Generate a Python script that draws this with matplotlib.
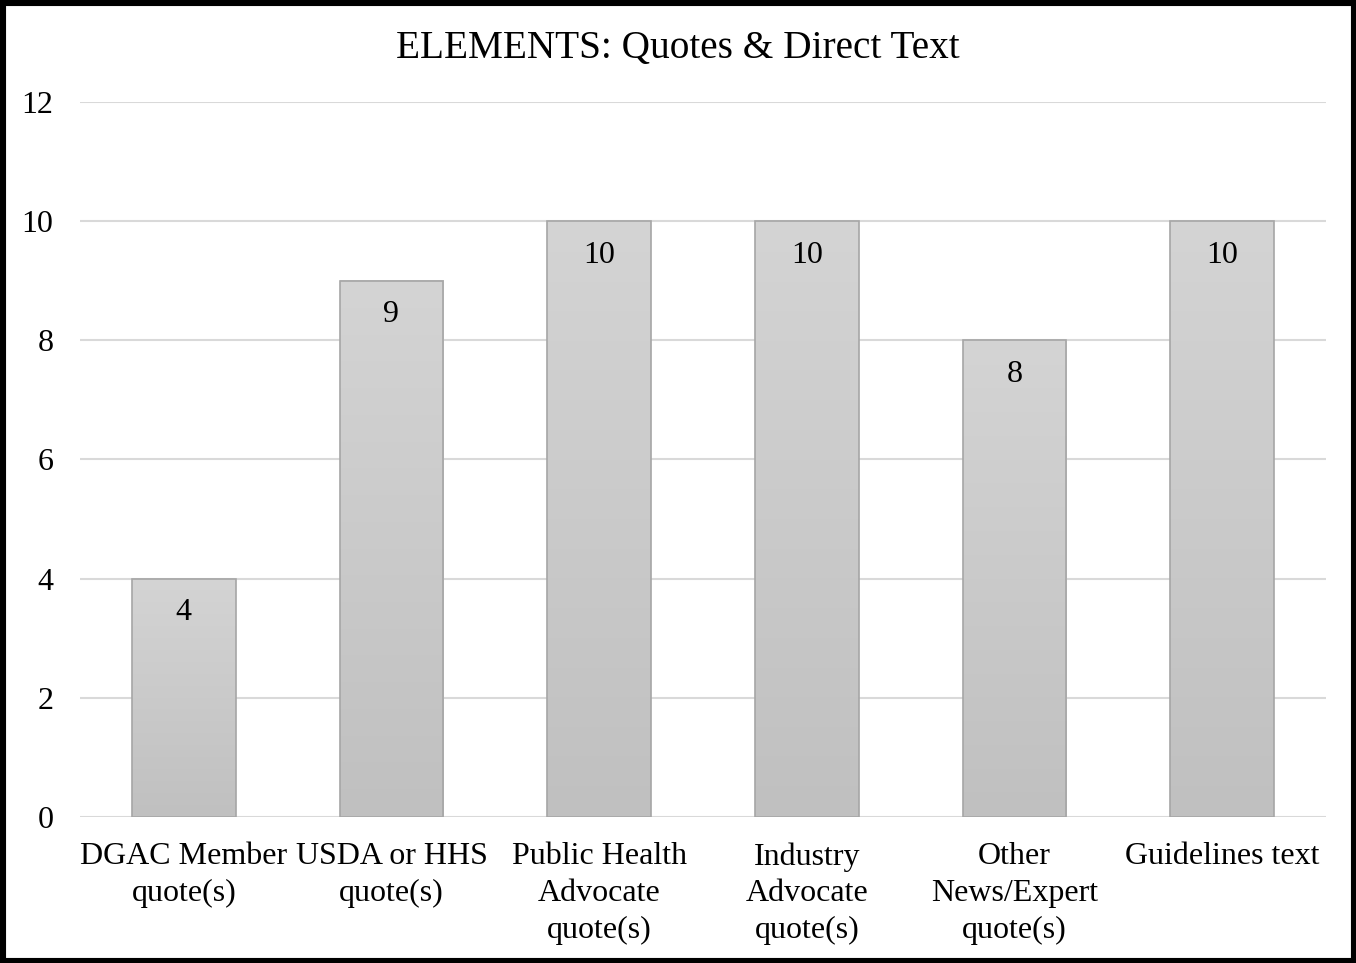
import numpy as np
import matplotlib.pyplot as plt
from matplotlib.patches import Rectangle
from matplotlib.colors import LinearSegmentedColormap

# Chart data
categories = ["DGAC Member\nquote(s)", "USDA or HHS\nquote(s)", "Public Health\nAdvocate\nquote(s)",
              "Industry\nAdvocate\nquote(s)", "Other\nNews/Expert\nquote(s)", "Guidelines text"]
values = [4, 9, 10, 10, 8, 10]
yticks = [0, 2, 4, 6, 8, 10, 12]

plt.rcParams['font.family'] = ['Liberation Serif', 'DejaVu Serif']

fig = plt.figure(figsize=(13.56, 9.63), dpi=100)
ax = fig.add_axes([80 / 1356, 1 - 817 / 963, 1246 / 1356, 715 / 963])

x = np.arange(len(values))
width = 0.5
bars = ax.bar(x, values, width=width, color='none', edgecolor='#a6a6a6', linewidth=1.2, zorder=3)

# vertical grey gradient inside each bar
grad = np.linspace(0, 1, 256).reshape(-1, 1)
cmap = LinearSegmentedColormap.from_list('g', ['#c0c0c0', '#d4d4d4'])
for b in bars:
    x0, y0 = b.get_x(), b.get_y()
    w, h = b.get_width(), b.get_height()
    ax.imshow(grad, extent=[x0, x0 + w, y0, y0 + h], origin='lower', aspect='auto',
              cmap=cmap, zorder=2)

for xi, v in zip(x, values):
    ax.text(xi, v - 0.57, str(v), ha='center', va='center', fontsize=23, color='black', zorder=4)

ax.set_xlim(-0.5, len(values) - 0.5)
ax.set_ylim(0, 12)
ax.set_yticks(yticks)
ax.set_xticks(x)
ax.set_xticklabels(categories, fontsize=23, linespacing=1.36)
ax.tick_params(axis='y', labelsize=23, length=0, pad=19)
ax.tick_params(axis='x', length=0, pad=18)
ax.grid(axis='y', color='#d9d9d9', linewidth=1.5, zorder=0)
ax.set_axisbelow(True)
for s in ax.spines.values():
    s.set_visible(False)

fig.text(0.5, 1 - 49 / 963, "ELEMENTS: Quotes & Direct Text", ha='center', va='center', fontsize=28.3)

# black outer border
fig.patches.append(Rectangle((0, 0), 1, 1, transform=fig.transFigure, fill=False,
                             edgecolor='black', linewidth=8, zorder=10))

fig.savefig('out.png', dpi=100)
